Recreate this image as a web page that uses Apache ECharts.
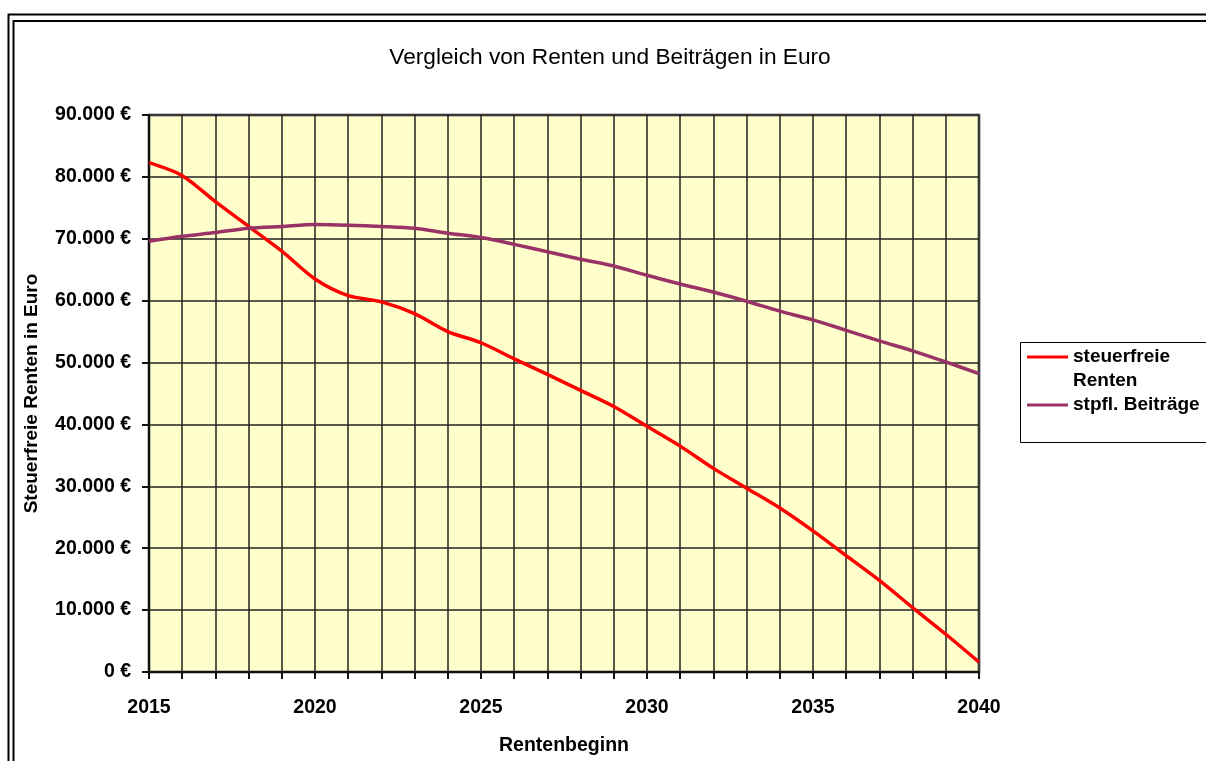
<!DOCTYPE html>
<html>
<head>
<meta charset="utf-8">
<script src="https://cdn.jsdelivr.net/npm/echarts@6/dist/echarts.min.js"></script>
<style>
  html, body { margin: 0; padding: 0; background: #fff; }
  #main { width: 1206px; height: 761px; }
</style>
</head>
<body>
<div id="main"></div>
<script>
// Rentenbeginn (x-Achse)
var years = ['2015','2016','2017','2018','2019','2020','2021','2022','2023','2024','2025','2026','2027',
             '2028','2029','2030','2031','2032','2033','2034','2035','2036','2037','2038','2039','2040'];
// steuerfreie Renten
var steuerfreieRenten = [82300, 80200, 76000, 72000, 68000, 63500, 60800, 59800, 57900, 55000, 53200, 50600, 48100,
                         45500, 42900, 39700, 36500, 32900, 29700, 26500, 22800, 18800, 14800, 10400, 6100, 1600];
// stpfl. Beiträge
var stpflBeitraege = [69600, 70400, 71000, 71700, 72000, 72300, 72200, 72000, 71700, 70900, 70200, 69100, 67900,
                      66700, 65600, 64100, 62700, 61400, 59900, 58300, 56900, 55200, 53500, 51900, 50100, 48200];

var font = 'Liberation Sans, Arial, sans-serif';

function euro(v) {
  var s = String(Math.round(v)).replace(/\B(?=(\d{3})+(?!\d))/g, '.');
  return s + ' €';
}

var myChart = echarts.init(document.getElementById('main'));
var option = {
  backgroundColor: '#fff',
  animation: false,
  title: {
    text: 'Vergleich von Renten und Beiträgen in Euro',
    left: 605, top: 41, textAlign: 'center',
    textStyle: { fontFamily: font, fontSize: 22.7, fontWeight: 'normal', color: '#000' }
  },
  legend: {
    orient: 'vertical',
    left: 1022, top: 316,
    itemGap: 0,
    itemWidth: 41, itemHeight: 3,
    icon: 'rect',
    textStyle: { fontFamily: font, fontSize: 19, fontWeight: 'bold', color: '#000', lineHeight: 24 },
    data: ['steuerfreie Renten', 'stpfl. Beiträge'],
    formatter: function (name) {
      // erste Zeile leer, damit die Linie auf Höhe von "steuerfreie" steht
      return name === 'steuerfreie Renten' ? ' \nsteuerfreie\nRenten' : name;
    }
  },
  graphic: [
    { type: 'rect', shape: { x: 8.5, y: 14.5, width: 1300, height: 900 },
      style: { fill: null, stroke: '#000', lineWidth: 2 } },
    { type: 'rect', shape: { x: 13.5, y: 21, width: 1300, height: 900 },
      style: { fill: null, stroke: '#000', lineWidth: 2 } },
    { type: 'rect', shape: { x: 1020.5, y: 342.5, width: 220, height: 100 },
      style: { fill: '#fff', stroke: '#000', lineWidth: 1 }, z: -1 }
  ],
  grid: {
    left: 149, right: 227, top: 115, bottom: 86,
    show: true, backgroundColor: '#FFFFCC', borderColor: '#808080', borderWidth: 3
  },
  xAxis: {
    type: 'category',
    data: years,
    boundaryGap: false,
    name: 'Rentenbeginn',
    nameLocation: 'middle',
    nameGap: 64,
    nameTextStyle: { fontFamily: font, fontSize: 19.5, fontWeight: 'bold', color: '#000' },
    axisLine: { lineStyle: { color: '#111', width: 2 } },
    axisTick: { show: true, interval: 0, length: 7, lineStyle: { color: '#111', width: 2 } },
    axisLabel: { interval: 4, margin: 26, fontFamily: font, fontSize: 19.5, fontWeight: 'bold', color: '#000' },
    splitLine: { show: true, interval: 0, lineStyle: { color: '#222', width: 1.5 } }
  },
  yAxis: {
    type: 'value',
    min: 0, max: 90000, interval: 10000,
    name: 'Steuerfreie Renten in Euro',
    nameLocation: 'middle',
    nameGap: 108,
    nameTextStyle: { fontFamily: font, fontSize: 19, fontWeight: 'bold', color: '#000' },
    axisLine: { show: true, lineStyle: { color: '#111', width: 2 } },
    axisTick: { show: true, length: 7, lineStyle: { color: '#111', width: 2 } },
    axisLabel: { margin: 18, formatter: euro, fontFamily: font, fontSize: 19.5, fontWeight: 'bold', color: '#000' },
    splitLine: { show: true, lineStyle: { color: '#222', width: 1.5 } }
  },
  series: [
    {
      name: 'steuerfreie Renten',
      type: 'line',
      data: steuerfreieRenten,
      smooth: 0.3,
      symbol: 'none',
      color: '#FF0000',
      lineStyle: { width: 3.5, color: '#FF0000' }
    },
    {
      name: 'stpfl. Beiträge',
      type: 'line',
      data: stpflBeitraege,
      smooth: 0.3,
      symbol: 'none',
      color: '#993366',
      lineStyle: { width: 3.5, color: '#993366' }
    }
  ]
};
myChart.setOption(option);
</script>
</body>
</html>
